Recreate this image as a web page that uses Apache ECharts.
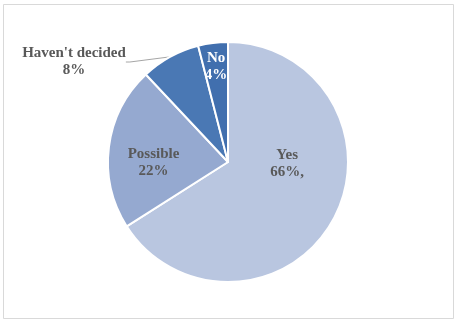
<!DOCTYPE html>
<html>
<head>
<meta charset="utf-8">
<script src="https://cdn.jsdelivr.net/npm/echarts@6/dist/echarts.min.js"></script>
<style>
  html, body { margin: 0; padding: 0; background: #fff; }
  #main { width: 458px; height: 328px; }
</style>
</head>
<body>
<div id="main"></div>
<script>
// 数据
var names = ['Yes', 'Possible', "Haven't decided", 'No'];
var values = [66, 22, 8, 4];
var labelTexts = ['66%,', '22%', '8%', '4%'];
var colors = ['#b9c6e0', '#95a9d0', '#4a78b4', '#416fae'];

// 每个标签的偏移（Excel 的位置）
var labelOffsets = [[4, -29], [-12, 9], [0, 0], [-4, -33]];

var chart = echarts.init(document.getElementById('main'));

var seriesData = names.map(function (n, i) {
    var item = {
        name: n,
        value: values[i],
        itemStyle: { color: colors[i] },
        label: { offset: labelOffsets[i] }
    };
    if (i === 2) {
        item.label = { position: 'outside', color: '#595959' };
        item.labelLine = { show: true, length: 4, length2: 4, lineStyle: { color: '#a6a6a6', width: 1 } };
    }
    if (i === 3) {
        item.label.color = '#ffffff';
    }
    return item;
});

var option = {
    backgroundColor: '#ffffff',
    animation: false,
    graphic: [{
        type: 'rect',
        shape: { x: 3.5, y: 4.5, width: 450, height: 314 },
        style: { fill: 'none', stroke: '#d9d9d9', lineWidth: 1 }
    }],
    series: [{
        type: 'pie',
        center: [228, 162],
        radius: 120,
        startAngle: 90,
        clockwise: true,
        data: seriesData,
        itemStyle: { borderColor: '#ffffff', borderWidth: 2 },
        label: {
            show: true,
            position: 'inside',
            fontFamily: 'Liberation Serif',
            fontWeight: 'bold',
            fontSize: 15,
            lineHeight: 17,
            color: '#595959',
            align: 'center',
            formatter: function (p) {
                return p.name + '\n' + labelTexts[p.dataIndex];
            }
        },
        labelLine: { show: false },
        labelLayout: function (params) {
            if (params.dataIndex === 2) {
                return { x: 74, y: 62, align: 'center', verticalAlign: 'middle' };
            }
        },
        emphasis: { disabled: true }
    }]
};

chart.setOption(option);
</script>
</body>
</html>
